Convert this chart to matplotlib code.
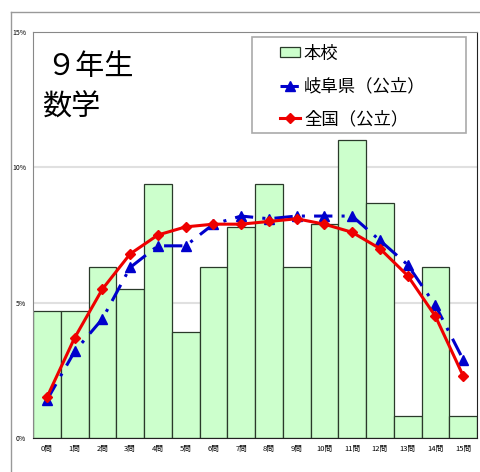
import numpy as np
import matplotlib
matplotlib.use("Agg")
import matplotlib.pyplot as plt
from matplotlib.lines import Line2D
from matplotlib.patches import Rectangle

plt.rcParams["font.family"] = ["Noto Sans CJK JP", "DejaVu Sans"]

# 正答数別の生徒の割合 (%)
labels = ["%d問" % i for i in range(16)]
school = [4.7, 4.7, 6.3, 5.5, 9.4, 3.9, 6.3, 7.8, 9.4, 6.3, 7.9, 11.0, 8.7, 0.8, 6.3, 0.8]
gifu = [1.4, 3.2, 4.4, 6.3, 7.1, 7.1, 7.9, 8.2, 8.1, 8.2, 8.2, 8.2, 7.3, 6.4, 4.9, 2.9]
zenkoku = [1.5, 3.7, 5.5, 6.8, 7.5, 7.8, 7.9, 7.9, 8.0, 8.1, 7.9, 7.6, 7.0, 6.0, 4.5, 2.3]
yticks = [0, 5, 10, 15]

fig = plt.figure(figsize=(4.8, 4.72), dpi=100)
ax = fig.add_axes([33 / 480, 34 / 472, 444 / 480, 406 / 472])

x = np.arange(len(labels))
bars = ax.bar(x, school, width=1.0, color="#ccffcc", edgecolor="#2a3a2a",
              linewidth=0.9, label="本校", zorder=2)
l_gifu, = ax.plot(x, gifu, color="#0000cc", linestyle=(0, (6, 3, 1, 3)),
                  linewidth=2.2, marker="^", markersize=7,
                  label="岐阜県（公立）", zorder=3)
l_zen, = ax.plot(x, zenkoku, color="#ee0000", linewidth=2.2, marker="D",
                 markersize=5, label="全国（公立）", zorder=4)

ax.set_xlim(-0.5, 15.5)
ax.set_ylim(0, 15)
ax.set_yticks(yticks)
ax.set_yticklabels(["%d%%" % v for v in yticks], fontsize=5)
ax.set_xticks(x)
ax.set_xticklabels(labels, fontsize=5.5)
ax.tick_params(length=0, pad=5)
for v in yticks[1:3]:
    ax.axhline(v, color="#e0e0e0", linewidth=1.5, zorder=1)

for side in ["left", "top"]:
    ax.spines[side].set_color("#888888")
ax.spines["right"].set_color("#222222")
ax.spines["bottom"].set_color("#222222")

ax.text(0.03, 0.915, "９年生", transform=ax.transAxes, fontsize=21,
        va="center", ha="left")
ax.text(0.02, 0.815, "数学", transform=ax.transAxes, fontsize=21,
        va="center", ha="left")

# 凡例の枠
ax.add_patch(Rectangle((252 / 480, 1 - 133 / 472), 214 / 480, 96 / 472,
                       transform=fig.transFigure, facecolor="white",
                       edgecolor="#aaaaaa", linewidth=1.2, zorder=9,
                       clip_on=False))
leg = ax.legend([bars, l_gifu, l_zen],
                ["本校", "岐阜県（公立）", "全国（公立）"],
                loc="upper left", bbox_to_anchor=(277 / 480, 1 - 41 / 472),
                bbox_transform=fig.transFigure, fontsize=12.5, frameon=False,
                handlelength=1.15, handleheight=0.5, handletextpad=0.2,
                labelspacing=0.85, borderpad=0.2, borderaxespad=0)
leg.set_zorder(10)

# 外枠
fig.add_artist(Line2D([11 / 480, 1], [1 - 12 / 472, 1 - 12 / 472],
                      transform=fig.transFigure, color="#999999", lw=1))
fig.add_artist(Line2D([11 / 480, 11 / 480], [0, 1 - 12 / 472],
                      transform=fig.transFigure, color="#999999", lw=1))

fig.savefig("out.png", dpi=100)
